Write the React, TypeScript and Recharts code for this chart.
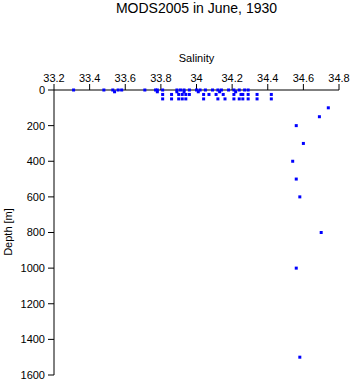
import { ScatterChart, Scatter, XAxis, YAxis } from "recharts";

// salinity / depth pairs
const salinity = [
  33.31, 33.48, 33.53, 33.56, 33.58, 33.71, 33.77, 33.78, 33.81, 33.89, 33.91, 33.93,
  33.96, 34.0, 34.02, 34.05, 34.09, 34.12, 34.14, 34.18, 34.21, 34.24, 34.27, 34.29,
  33.54, 33.78, 33.89, 33.93, 34.01, 34.13, 34.22,
  33.81, 33.86, 33.9, 33.92, 33.94, 33.96, 34.04, 34.07, 34.11, 34.15, 34.21, 34.25,
  34.26, 34.29, 34.34, 34.42,
  33.81, 33.86, 33.9, 33.92, 33.94, 34.04, 34.12, 34.16, 34.21, 34.24, 34.26, 34.29,
  34.34, 34.42,
  34.74, 34.69, 34.56, 34.6, 34.54, 34.56, 34.58, 34.7, 34.56, 34.58,
];
const depth = [
  0, 0, 0, 0, 0, 0, 0, 0, 0, 0, 0, 0,
  0, 0, 0, 0, 0, 0, 0, 0, 0, 0, 0, 0,
  10, 10, 10, 10, 10, 10, 10,
  25, 25, 25, 25, 25, 25, 25, 25, 25, 25, 25, 25,
  25, 25, 25, 25,
  50, 50, 50, 50, 50, 50, 50, 50, 50, 50, 50, 50,
  50, 50,
  100, 150, 200, 300, 400, 500, 600, 800, 1000, 1500,
];

const salinityTicks = [33.2, 33.4, 33.6, 33.8, 34, 34.2, 34.4, 34.6, 34.8];
const depthTicks = [0, 200, 400, 600, 800, 1000, 1200, 1400, 1600];

const points = salinity.map((s, i) => ({ s, d: depth[i] }));

const font = "'Liberation Sans', Arial, sans-serif";

const Dot = (p: any) => (
  <rect x={p.cx - 1.5} y={p.cy - 1.5} width={3} height={3} fill="#0000ff" />
);

export default function App() {
  return (
    <div style={{ position: "absolute", left: 0, top: 0, width: 353, height: 384, background: "#fff", fontFamily: font }}>
      <div style={{ position: "absolute", top: 0, left: 20, width: 353, textAlign: "center", fontSize: 14, lineHeight: "17px" }}>
        MODS2005 in June, 1930
      </div>
      <ScatterChart width={353} height={384} margin={{ top: 64, right: 14, bottom: 9, left: 24 }}>
        <XAxis
          type="number"
          dataKey="s"
          orientation="top"
          domain={[33.2, 34.8]}
          ticks={salinityTicks}
          height={26}
          tickSize={6}
          tickMargin={2}
          tick={{ fontSize: 11, fill: "#000", fontFamily: font }}
          stroke="#000"
          label={{ value: "Salinity", position: "top", offset: 2, fontSize: 11, fill: "#000", fontFamily: font }}
        />
        <YAxis
          type="number"
          dataKey="d"
          reversed
          domain={[0, 1600]}
          ticks={depthTicks}
          width={30}
          tickSize={6}
          tickMargin={3}
          tick={{ fontSize: 11, fill: "#000", fontFamily: font }}
          stroke="#000"
          label={{
            content: () => (
              <text x={12} y={232} transform="rotate(-90 12 232)" textAnchor="middle" fontSize={11} fontFamily={font} fill="#000">
                Depth [m]
              </text>
            ),
          }}
        />
        <Scatter data={points} shape={Dot} isAnimationActive={false} />
      </ScatterChart>
    </div>
  );
}
